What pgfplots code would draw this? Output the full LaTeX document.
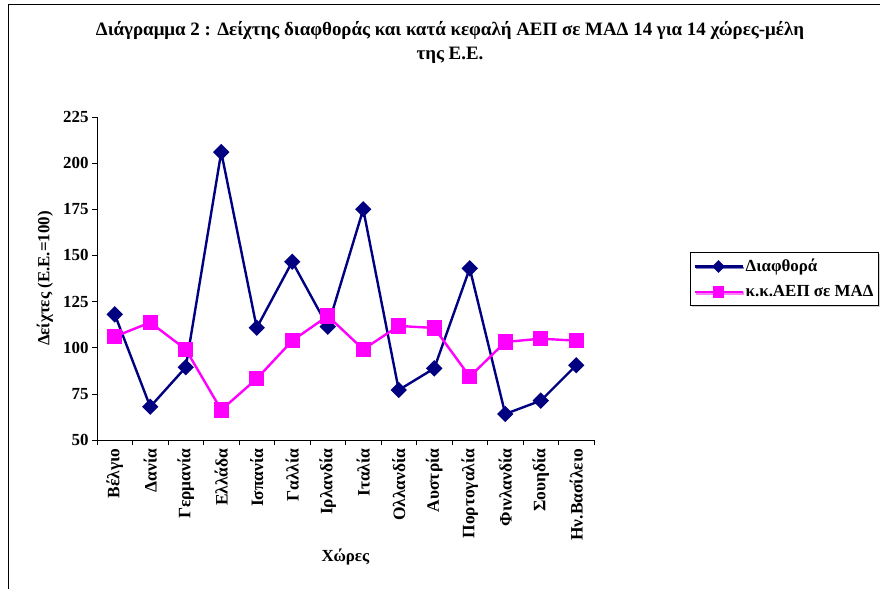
\documentclass[border=0pt]{standalone}
\usepackage{pgfplots}
\pgfplotsset{compat=1.18}
\usepackage{fontspec}
\setmainfont{Liberation Serif}
\usetikzlibrary{shadows}
\definecolor{navy}{RGB}{0,0,128}
\definecolor{mag}{RGB}{255,0,255}
\begin{document}
\begin{tikzpicture}
\path[use as bounding box] (-97bp,-149bp) rectangle (783bp,440bp);
\draw[black, line width=0.8bp] (-89bp,-149bp) -- (-89bp,436bp) -- (783bp,436bp);
\begin{axis}[
 at={(0,0)}, anchor=south west,
 scale only axis, width=497bp, height=323bp,
 xmin=-0.5, xmax=13.5, ymin=50, ymax=225,
 axis x line=bottom, axis y line=left,
 axis line style={-, black, line width=0.8bp},
 ytick={50,75,...,225},
 xtick={0,...,13},
 xticklabels={Βέλγιο,Δανία,Γερμανία,Ελλάδα,Ισπανία,Γαλλία,Ιρλανδία,Ιταλία,Ολλανδία,Αυστρία,Πορτογαλία,Φινλανδία,Σουηδία,Ην.Βασίλειο},
 major x tick style={draw=none},
 minor xtick={-0.5,0.5,...,13.5},
 tick align=outside, major tick length=5bp, minor tick length=5bp,
 tick style={black, line width=0.6bp},
 x tick label style={rotate=90, anchor=east, font=\bfseries\fontsize{17.5}{19}\selectfont},
 y tick label style={font=\bfseries\fontsize{17}{19}\selectfont},
 /pgf/number format/assume math mode=true,
 xlabel={Χώρες}, ylabel={Δείχτες (Ε.Ε.=100)},
 every axis x label/.style={at={(axis description cs:0.5,-0.362)}, anchor=center, font=\bfseries\fontsize{17}{19}\selectfont},
 every axis y label/.style={at={(axis description cs:-0.105,0.5)}, rotate=90, anchor=center, font=\bfseries\fontsize{17}{19}\selectfont},
 legend style={at={(1.193,0.582)}, anchor=north west, draw=black, line width=0.8bp,
   font=\bfseries\fontsize{17}{19}\selectfont, row sep=8bp, inner xsep=3bp, inner ysep=5bp,
   /tikz/every even column/.append style={column sep=4bp},
   drop shadow={shadow xshift=1.5bp, shadow yshift=-1.5bp, fill=gray!70}},
 legend cell align=left,
 legend image code/.code={\draw[mark repeat=2,mark phase=2,#1, every mark/.append style={scale=0.72}] plot coordinates {(0bp,0bp) (24bp,0bp) (48bp,0bp)};},
]
\addplot[navy, line width=2.4bp, mark=square*, mark size=4.6bp, mark options={rotate=45, fill=navy, draw=navy, solid}]
 coordinates {(0,118.1) (1,68.0) (2,89.4) (3,206.0) (4,110.8) (5,146.6) (6,111.4) (7,175.0) (8,77.1) (9,88.8) (10,143.0) (11,64.1) (12,71.3) (13,90.5)};
\addlegendentry{Διαφθορά}
\addplot[mag, line width=2.4bp, mark=square*, mark size=6.5bp, mark options={fill=mag, draw=mag, solid}]
 coordinates {(0,106.0) (1,113.7) (2,99.1) (3,66.3) (4,83.2) (5,103.8) (6,117.2) (7,99.1) (8,111.8) (9,110.7) (10,84.3) (11,103.1) (12,104.9) (13,103.8)};
\addlegendentry{κ.κ.ΑΕΠ σε ΜΑΔ}
\end{axis}
\node[align=center, font=\bfseries\fontsize{19}{25}\selectfont] at (353bp,397.5bp)
 {Διάγραμμα 2 : Δείχτης διαφθοράς και κατά κεφαλή ΑΕΠ σε ΜΑΔ 14 για 14 χώρες-μέλη\\της Ε.Ε.};
\end{tikzpicture}
\end{document}
